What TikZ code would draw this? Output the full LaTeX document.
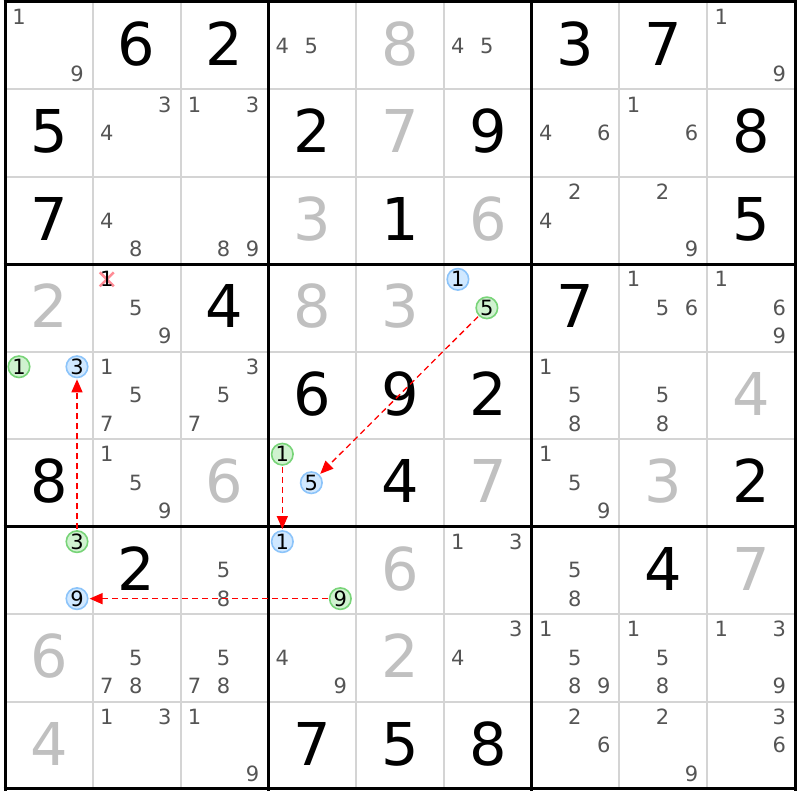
\documentclass[tikz,border=0pt]{standalone}
\usepackage{fontspec}
\setmainfont{DejaVu Sans}
\usetikzlibrary{arrows.meta}
\definecolor{candcol}{RGB}{85,85,85}
\definecolor{lightdig}{RGB}{192,192,192}
\definecolor{gridgray}{RGB}{212,212,212}
\definecolor{bfill}{RGB}{208,232,255}
\definecolor{bdraw}{RGB}{140,196,250}
\definecolor{gfill}{RGB}{208,242,208}
\definecolor{gdraw}{RGB}{120,212,120}
\definecolor{xred}{RGB}{255,140,150}
\begin{document}
\begin{tikzpicture}[x=1pt,y=-1pt,
  bigdig/.style={font=\fontsize{59}{60}\selectfont, inner sep=0pt, anchor=base},
  canddig/.style={font=\fontsize{21}{22}\selectfont, text=candcol, inner sep=0pt},
  bluec/.style={circle, draw=bdraw, fill=bfill, line width=1.6pt, minimum size=21.5pt, inner sep=0pt, font=\fontsize{21}{22}\selectfont},
  greenc/.style={circle, draw=gdraw, fill=gfill, line width=1.6pt, minimum size=21.5pt, inner sep=0pt, font=\fontsize{21}{22}\selectfont},
  link/.style={red, dash pattern=on 6pt off 4pt, line width=1.3pt, -{Triangle[length=13pt,width=11pt]}, shorten >=1pt, shorten <=1pt}
]
\useasboundingbox (0,0) rectangle (800,800);
\fill[white] (0,0) rectangle (800,800);
% thin grid
\foreach \i in {1,2,4,5,7,8}{
  \draw[gridgray, line width=2pt] ({5+\i*87.78},2) -- ({5+\i*87.78},789);
  \draw[gridgray, line width=2pt] (5,{2+\i*87.44}) -- (795,{2+\i*87.44});
}
\foreach \i in {0,3,6,9}{
  \draw[black, line width=3pt] ({5+\i*87.78},0.5) -- ({5+\i*87.78},790.5);
  \draw[black, line width=3pt] (3.5,{2+\i*87.44}) -- (796.5,{2+\i*87.44});
}
% big digits
\foreach \r/\c/\d/\t in {
 1/2/6/black,1/3/2/black,1/5/8/lightdig,1/7/3/black,1/8/7/black,
 2/1/5/black,2/4/2/black,2/5/7/lightdig,2/6/9/black,2/9/8/black,
 3/1/7/black,3/4/3/lightdig,3/5/1/black,3/6/6/lightdig,3/9/5/black,
 4/1/2/lightdig,4/3/4/black,4/4/8/lightdig,4/5/3/lightdig,4/7/7/black,
 5/4/6/black,5/5/9/black,5/6/2/black,5/9/4/lightdig,
 6/1/8/black,6/3/6/lightdig,6/5/4/black,6/6/7/lightdig,6/8/3/lightdig,6/9/2/black,
 7/2/2/black,7/5/6/lightdig,7/8/4/black,7/9/7/lightdig,
 8/1/6/lightdig,8/5/2/lightdig,
 9/1/4/lightdig,9/4/7/black,9/5/5/black,9/6/8/black}{
  \node[bigdig, text=\t] at ({5+(\c-0.5)*87.78},{2+(\r-1)*87.44+63.5}) {\d};
}
% candidates
\foreach \r/\c/\d in {
 1/1/1,1/1/9,1/4/4,1/4/5,1/6/4,1/6/5,1/9/1,1/9/9,
 2/2/3,2/2/4,2/3/1,2/3/3,2/7/4,2/7/6,2/8/1,2/8/6,
 3/2/4,3/2/8,3/3/8,3/3/9,3/7/2,3/7/4,3/8/2,3/8/9,
 4/2/5,4/2/9,4/8/1,4/8/5,4/8/6,4/9/1,4/9/6,4/9/9,
 5/2/1,5/2/5,5/2/7,5/3/3,5/3/5,5/3/7,5/7/1,5/7/5,5/7/8,5/8/5,5/8/8,
 6/2/1,6/2/5,6/2/9,6/7/1,6/7/5,6/7/9,
 7/3/5,7/3/8,7/6/1,7/6/3,7/7/5,7/7/8,
 8/2/5,8/2/7,8/2/8,8/3/5,8/3/7,8/3/8,8/4/4,8/4/9,8/6/3,8/6/4,
 8/7/1,8/7/5,8/7/8,8/7/9,8/8/1,8/8/5,8/8/8,8/9/1,8/9/3,8/9/9,
 9/2/1,9/2/3,9/3/1,9/3/9,9/7/2,9/7/6,9/8/2,9/8/9,9/9/3,9/9/6}{
  \pgfmathsetmacro\xx{5+(\c-1)*87.78+14+29*mod(\d-1,3)}
  \pgfmathsetmacro\yy{2+(\r-1)*87.44+15+28.5*int((\d-1)/3)}
  \node[canddig] at (\xx,\yy) {\d};
}
% crossed candidate
\draw[xred, line width=2.6pt] (99.8,272.3) -- (113.8,286.3);
\draw[xred, line width=2.6pt] (99.8,286.3) -- (113.8,272.3);
\node[canddig, text=black] (x1) at (106.78,279.32) {1};
% circled candidates
\node[bluec]  (b41) at (457.9,279.32) {1};
\node[greenc] (g45) at (486.9,307.82) {5};
\node[greenc] (g51) at (19,366.76) {1};
\node[bluec]  (b53) at (77,366.76) {3};
\node[greenc] (g61) at (282.34,454.2) {1};
\node[bluec]  (b65) at (311.34,482.7) {5};
\node[bluec]  (b71) at (282.34,541.64) {1};
\node[greenc] (g79) at (340.34,598.64) {9};
\node[greenc] (g73) at (77,541.64) {3};
\node[bluec]  (b79) at (77,598.64) {9};
% links
\draw[link] (g45) -- (b65);
\draw[link] (g61) -- (b71);
\draw[link] (g79) -- (b79);
\draw[link] (g73) -- (b53);
\end{tikzpicture}
\end{document}
